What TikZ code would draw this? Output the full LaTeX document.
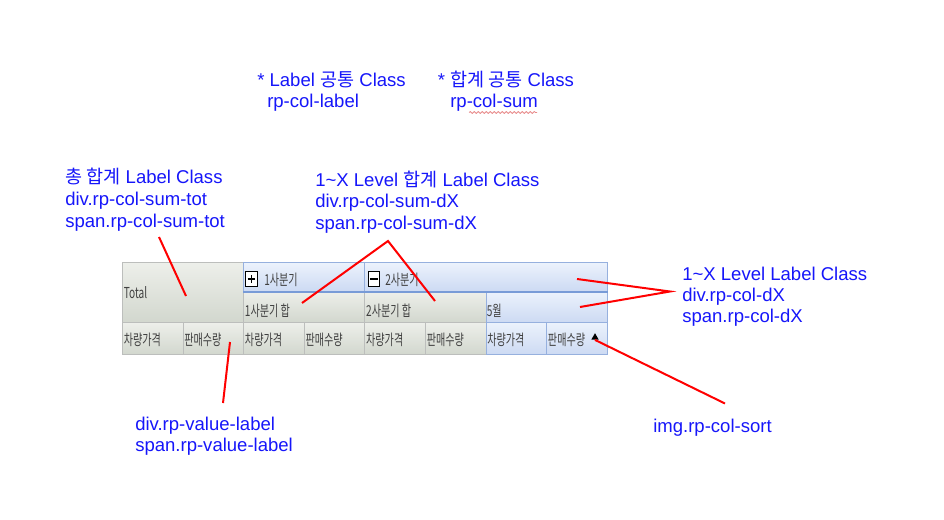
\documentclass[tikz,border=0pt]{standalone}
\usepackage{fontspec}
\setmainfont{Liberation Sans}
\newfontfamily\kr{Noto Sans CJK KR}
\newfontfamily\krcell[FakeStretch=0.67]{Noto Sans CJK KR}
\usetikzlibrary{calc,shapes.geometric,decorations.pathmorphing}
\newcommand\pxu{0.75pt}
\definecolor{annblue}{RGB}{22,22,250}
\definecolor{annred}{RGB}{255,0,0}
\definecolor{graytop}{RGB}{237,239,234}
\definecolor{graybot}{RGB}{210,215,206}
\definecolor{graybd}{RGB}{188,190,188}
\definecolor{bluetop}{RGB}{236,242,252}
\definecolor{bluebot}{RGB}{204,218,243}
\definecolor{bluebd}{RGB}{150,176,222}
\definecolor{bluedark}{RGB}{120,155,215}
\definecolor{celltext}{RGB}{64,64,64}
\definecolor{squig}{RGB}{232,140,140}
\tikzset{
  sz/.style 2 args={minimum width=#1*\pxu, minimum height=#2*\pxu},
  cellbase/.style={anchor=north west, inner sep=0pt, line width=0.75pt},
  gcell/.style={cellbase, draw=graybd, top color=graytop, bottom color=graybot},
  bcell/.style={cellbase, draw=bluebd, top color=bluetop, bottom color=bluebot},
  ctext/.style={anchor=west, inner sep=0pt, text=celltext, font=\krcell\fontsize{11.3}{12}\selectfont},
  ann/.style={anchor=base west, inner sep=0pt, text=annblue, font=\fontsize{13.9}{16}\selectfont},
  redline/.style={draw=annred, line width=1.5pt},
  togglebox/.style={draw=black, fill=white, line width=0.9pt, sz={11.5}{15.5}, inner sep=0pt},
  sorttri/.style={regular polygon, regular polygon sides=3, fill=black, inner sep=0pt, minimum size=8.6*\pxu},
}
\begin{document}
\begin{tikzpicture}[x=0.75pt,y=-0.75pt]
\useasboundingbox (0,0) rectangle (944,520);
\fill[white] (0,0) rectangle (944,520);

% ---- table cells ----
\node[gcell, sz={121.2}{60}] (tot) at (122,262) {};
\node[bcell, sz={121.2}{29}] (q1) at (243.2,262) {};
\node[bcell, sz={242.6}{29}] (q2) at (364.4,262) {};
\node[gcell, sz={121.2}{31}] (q1s) at (243.2,291) {};
\node[gcell, sz={121.2}{31}] (q2s) at (364.4,291) {};
\node[bcell, sz={121.2}{31}] (m5) at (485.6,291) {};
\foreach \i/\lbl/\sty in {0/차량가격/gcell,1/판매수량/gcell,2/차량가격/gcell,3/판매수량/gcell,4/차량가격/gcell,5/판매수량/gcell,6/차량가격/bcell,7/판매수량/bcell}{
  \node[\sty, sz={60.6}{32}] (v\i) at ({122+60.6*\i},322) {};
  \node[ctext] (vt\i) at ($(v\i.west)+(1.5,1)$) {\lbl};
}
\draw[bluedark, line width=1.5pt] (q1.south west) -- (q2.south east);

% ---- cell texts ----
\node[ctext] (ttot) at ($(tot.west)+(1.5,0.5)$) {Total};
\node[togglebox] (tg1) at (251.5,279) {};
\draw[line width=1pt] ($(tg1.center)+(-3.8,0)$) -- ($(tg1.center)+(3.8,0)$);
\draw[line width=1pt] ($(tg1.center)+(0,-3.8)$) -- ($(tg1.center)+(0,3.8)$);
\node[ctext] (tq1) at (264,280) {1사분기};
\node[togglebox] (tg2) at (374,279) {};
\draw[line width=1pt] ($(tg2.center)+(-3.8,0)$) -- ($(tg2.center)+(3.8,0)$);
\node[ctext] (tq2) at (385,280) {2사분기};
\node[ctext] (tq1s) at ($(q1s.west)+(1.5,4)$) {1사분기 합};
\node[ctext] (tq2s) at ($(q2s.west)+(1.5,4)$) {2사분기 합};
\node[ctext] (tm5) at ($(m5.west)+(1,4)$) {5월};
\node[sorttri] (sort) at (595,337.5) {};

% ---- annotation texts ----
\node[ann] (a1) at (257,87) {* Label {\kr 공통} Class};
\node[ann] (a1b) at (267,108) {rp-col-label};
\node[ann] (a2) at (437.5,87) {* {\kr 합계 공통} Class};
\node[ann] (a2b) at (450,108) {rp-col-sum};
\draw[squig, line width=0.6pt, decorate, decoration={snake, amplitude=0.7, segment length=3}] (469,112.5) -- (537,112.5);

\node[ann] (a3) at (65,184) {{\kr 총 합계} Label Class};
\node[ann] (a3b) at (65,205.5) {div.rp-col-sum-tot};
\node[ann] (a3c) at (65,227) {span.rp-col-sum-tot};

\node[ann] (a4) at (315,186) {1\textasciitilde X Level {\kr 합계} Label Class};
\node[ann] (a4b) at (315,207.5) {div.rp-col-sum-dX};
\node[ann] (a4c) at (315,229) {span.rp-col-sum-dX};

\node[ann] (a5) at (682,280) {1\textasciitilde X Level Label Class};
\node[ann] (a5b) at (682,301.5) {div.rp-col-dX};
\node[ann] (a5c) at (682,322.5) {span.rp-col-dX};

\node[ann] (a6) at (135,430) {div.rp-value-label};
\node[ann] (a6b) at (135,451.5) {span.rp-value-label};

\node[ann] (a7) at (653,432) {img.rp-col-sort};

% ---- red connectors ----
\coordinate (p1) at (159,237);
\coordinate (e1) at (186,296);
\coordinate (apex2) at (388,241);
\coordinate (e2a) at (302,303);
\coordinate (e2b) at (435,301);
\coordinate (apex3) at (670,291.5);
\coordinate (e3a) at (577,279);
\coordinate (e3b) at (580,307);
\coordinate (p4) at (230,342);
\coordinate (e4) at (223,403);
\coordinate (e5) at (725,403.5);
\draw[redline] (p1) -- (e1);
\draw[redline] (e2a) -- (apex2) -- (e2b);
\draw[redline] (e3a) -- (apex3) -- (e3b);
\draw[redline] (p4) -- (e4);
\draw[redline] (sort.side 2) -- (e5);
\end{tikzpicture}
\end{document}
